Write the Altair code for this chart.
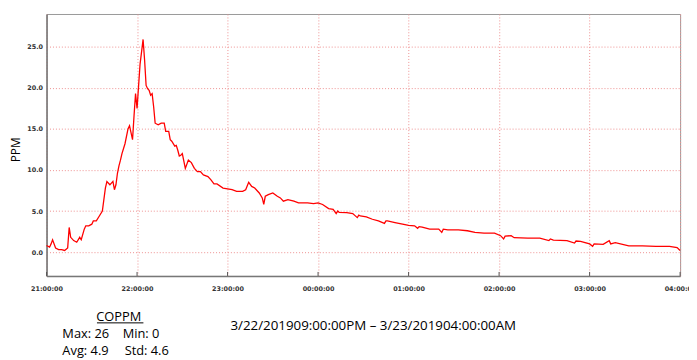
import altair as alt
import pandas as pd

# minutes after 2019-03-22 21:00 and CO ppm
minutes = [0, 2, 3, 4, 6, 8, 10, 12, 14, 15, 16, 18, 20, 22, 23, 25, 26, 28, 30, 31,
           33, 35, 37, 39, 40, 42, 43, 44, 45, 46, 47, 48, 49, 50, 52, 54, 55, 57, 58, 59,
           60, 62, 64, 65, 66, 67, 68, 69, 70, 71, 72, 74, 76, 78, 79, 81, 82, 83, 85, 86,
           87, 88, 89, 90, 92, 94, 96, 98, 100, 102, 104, 107, 109, 111, 113, 117, 120, 123, 126, 130,
           132, 134, 136, 138, 141, 143, 144, 145, 147, 150, 153, 155, 157, 160, 164, 167, 170, 173, 177, 180,
           183, 187, 190, 192, 193, 194, 199, 203, 206, 207, 208, 212, 216, 220, 224, 225, 226, 231, 236, 240,
           244, 246, 247, 249, 254, 260, 262, 263, 266, 273, 279, 284, 290, 297, 301, 303, 304, 308, 310, 319,
           327, 333, 334, 336, 345, 350, 351, 354, 360, 362, 363, 369, 373, 374, 377, 386, 395, 404, 413, 418,
           420]
ppm = [0.8, 0.6, 1.0, 1.5, 0.5, 0.3, 0.3, 0.2, 0.5, 3.0, 1.8, 1.4, 1.2, 1.8, 1.5, 2.8, 3.2, 3.2, 3.4, 3.8,
       3.8, 4.4, 5.0, 7.8, 8.6, 8.2, 8.4, 8.6, 7.6, 8.2, 9.6, 10.5, 11.2, 12.0, 13.2, 15.0, 15.4, 13.7, 16.6, 19.3,
       17.5, 22.9, 25.9, 23.4, 20.3, 19.9, 19.7, 19.1, 19.3, 17.7, 15.7, 15.5, 15.7, 15.7, 14.7, 14.7, 13.7, 13.5, 12.9, 13.0,
       12.4, 11.7, 11.8, 12.0, 10.2, 11.2, 10.9, 10.2, 9.8, 9.8, 9.4, 9.2, 8.8, 8.3, 8.3, 7.8, 7.7, 7.6, 7.4, 7.4,
       7.6, 8.5, 8.0, 7.8, 7.2, 6.6, 5.8, 6.8, 7.0, 7.2, 6.8, 6.6, 6.2, 6.4, 6.2, 6.0, 6.0, 6.0, 5.9, 6.0,
       5.8, 5.3, 5.2, 4.7, 5.0, 4.85, 4.8, 4.7, 4.2, 4.5, 4.4, 4.3, 4.0, 3.8, 3.5, 3.8, 3.8, 3.6, 3.4, 3.25,
       3.2, 2.9, 3.1, 3.05, 2.8, 2.8, 2.4, 2.8, 2.7, 2.7, 2.6, 2.4, 2.3, 2.3, 2.0, 1.6, 1.95, 2.0, 1.75, 1.7,
       1.7, 1.4, 1.6, 1.45, 1.4, 1.1, 1.35, 1.3, 1.0, 0.7, 1.0, 0.95, 1.4, 1.0, 1.15, 0.75, 0.75, 0.7, 0.7, 0.55,
       0.2]

hours = [(2019, 3, 22, 21), (2019, 3, 22, 22), (2019, 3, 22, 23), (2019, 3, 23, 0),
         (2019, 3, 23, 1), (2019, 3, 23, 2), (2019, 3, 23, 3), (2019, 3, 23, 4)]
y_ticks = [0, 5, 10, 15, 20, 25]

series_name = "COPPM"
stats_line1 = ["Max: 26", "Min: 0"]
stats_line2 = ["Avg: 4.9", "Std: 4.6"]
range_text = "3/22/201909:00:00PM \u2013 3/23/201904:00:00AM"

start = pd.Timestamp("2019-03-22 21:00:00")
df = pd.DataFrame({
    "time": [(start + pd.Timedelta(minutes=m)).strftime("%Y-%m-%dT%H:%M:%S") for m in minutes],
    "ppm": ppm,
})
hours_df = pd.DataFrame({
    "time": [pd.Timestamp(year=y, month=mo, day=d, hour=h).strftime("%Y-%m-%dT%H:%M:%S")
             for (y, mo, d, h) in hours]
})
hour_values = [alt.DateTime(year=y, month=mo, date=d, hours=h) for (y, mo, d, h) in hours]

W, H = 641, 265
FONT = "Open Sans"

xscale = alt.Scale(domain=[hour_values[0], hour_values[-1]])

line = alt.Chart(df).mark_line(color="#ff0000", strokeWidth=1.3, interpolate="linear").encode(
    x=alt.X("time:T", scale=xscale, title=None,
            axis=alt.Axis(values=hour_values, format="%H:%M:%S", ticks=False,
                          labelFont="DejaVu Sans", labelFontSize=6.5, labelFontWeight="bold",
                          labelColor="#333", labelPadding=10, labelFlush=False,
                          grid=True, gridColor="#ee9090", gridDash=[1, 2], gridWidth=1,
                          domainColor="#777", domainWidth=1.5)),
    y=alt.Y("ppm:Q", scale=alt.Scale(domain=[-2.9, 29], nice=False, zero=False),
            title="PPM",
            axis=alt.Axis(values=y_ticks, format=".1f", ticks=False,
                          labelFont="DejaVu Sans", labelFontSize=6.5, labelFontWeight="bold",
                          labelColor="#333", labelPadding=4,
                          grid=True, gridColor="#ee9090", gridDash=[1, 2], gridWidth=1,
                          domainColor="#777", domainWidth=1.5,
                          titleFont=FONT, titleFontSize=12, titleFontWeight="normal",
                          titleColor="#000", titleAngle=270, titleX=-31, titleY=137,
                          titleAlign="center", titleBaseline="middle")),
)

hour_ticks = alt.Chart(hours_df).mark_rule(color="#555", strokeWidth=1).encode(
    x=alt.X("time:T", scale=xscale),
    y=alt.value(H - 4),
    y2=alt.value(H),
)


def label(text, x, y, align="left", size=13):
    return alt.Chart(pd.DataFrame({"t": [text]})).mark_text(
        font=FONT, fontSize=size, color="#000", align=align, baseline="alphabetic"
    ).encode(text="t:N", x=alt.value(x), y=alt.value(y))


underline = alt.Chart(pd.DataFrame({"t": [series_name]})).mark_rule(color="#000", strokeWidth=1).encode(
    x=alt.value(51), x2=alt.value(98), y=alt.value(312.5)
)

texts = [
    label(series_name, 73, 311, align="center"),
    label(stats_line1[0], 16, 328),
    label(stats_line1[1], 77, 328),
    label(stats_line2[0], 16, 345),
    label(stats_line2[1], 79, 345),
    label(range_text, 186, 320, size=13.5),
]

chart = alt.layer(line, hour_ticks, underline, *texts).properties(
    width=W, height=H,
    padding={"left": 39, "top": 4, "right": 9, "bottom": 82},
    autosize=alt.AutoSizeParams(type="none"),
).configure_view(stroke="#999", strokeWidth=1)

chart.save("out.html", embed_options={"renderer": "svg", "actions": False})
